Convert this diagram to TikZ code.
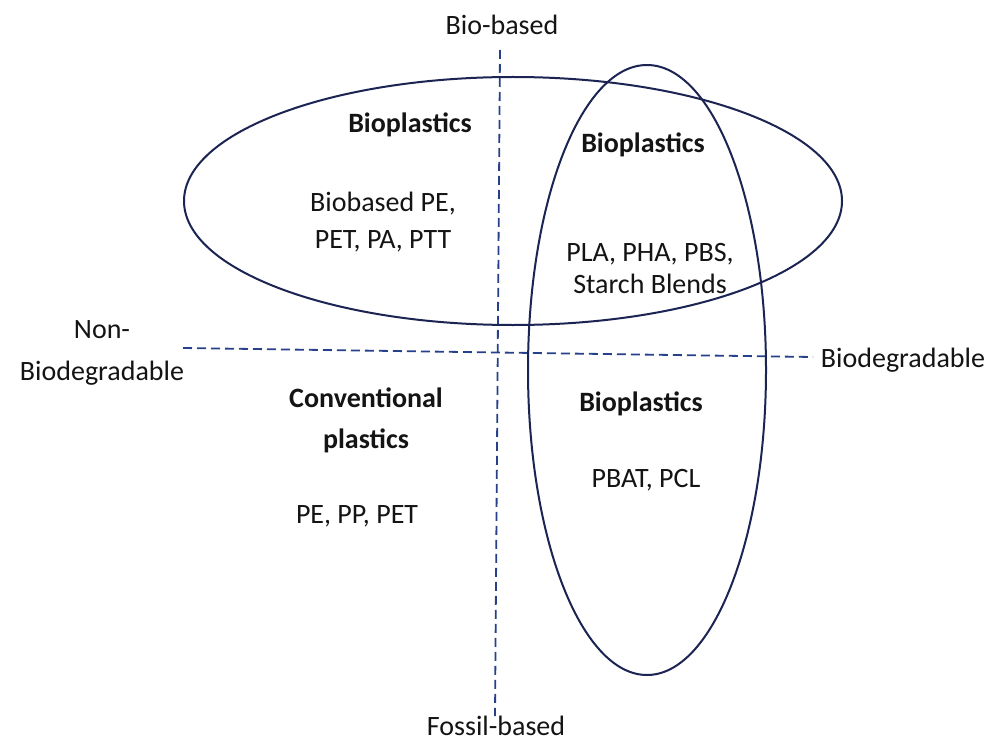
\documentclass[tikz,border=0pt]{standalone}
\usepackage{fontspec}
\setmainfont{Carlito}
\definecolor{axisblue}{HTML}{27408B}
\definecolor{ovalnavy}{HTML}{1B2452}
\definecolor{inktext}{HTML}{141414}
\begin{document}
\begin{tikzpicture}[x=1pt,y=-1pt,
  lbl/.style={inner sep=0pt, text=inktext, anchor=base, font=\fontsize{28}{34}\selectfont},
  hd/.style={lbl, font=\fontsize{28}{34}\selectfont\bfseries},
  axisline/.style={draw=axisblue, line width=1.8pt, dash pattern=on 9pt off 5pt},
  oval/.style={draw=ovalnavy, line width=2pt}]
\useasboundingbox (0,0) rectangle (995,746);
\fill[white] (0,0) rectangle (995,746);

% axes
\coordinate (vtop) at (500,50);
\coordinate (vbot) at (495,716);
\coordinate (hleft) at (183,348);
\coordinate (hright) at (813,357);
\draw[axisline] (vtop) -- (vbot);
\draw[axisline] (hleft) -- (hright);

% ellipses
\draw[oval] (513,201) ellipse [x radius=329pt, y radius=124pt];
\draw[oval] (647,370) ellipse [x radius=119pt, y radius=305pt];

% axis labels
\node[lbl] (biobased) at (502,35) {Bio-based};
\node[lbl] (fossil) at (496,735) {Fossil-based};
\node[lbl, align=center, font=\fontsize{28}{42}\selectfont] (nonbio) at (102,380) {Non-\\Biodegradable};
\node[lbl] (biodeg) at (903,367) {Biodegradable};

% quadrant texts
\node[hd] (tlh) at (410,133) {Bioplastics};
\node[lbl, align=center, font=\fontsize{28}{36.6}\selectfont] (tlt) at (383,248) {Biobased PE,\\PET, PA, PTT};
\node[hd] (trh) at (643,153) {Bioplastics};
\node[lbl, align=center, font=\fontsize{28}{31.7}\selectfont] (trt) at (650,293) {PLA, PHA, PBS,\\Starch Blends};
\node[hd, align=center, font=\fontsize{28}{41}\selectfont\bfseries] (blh) at (366,448) {Conventional\\plastics};
\node[lbl] (blt) at (357,523) {PE, PP, PET};
\node[hd] (brh) at (641,411) {Bioplastics};
\node[lbl] (brt) at (646,487) {PBAT, PCL};
\end{tikzpicture}
\end{document}
